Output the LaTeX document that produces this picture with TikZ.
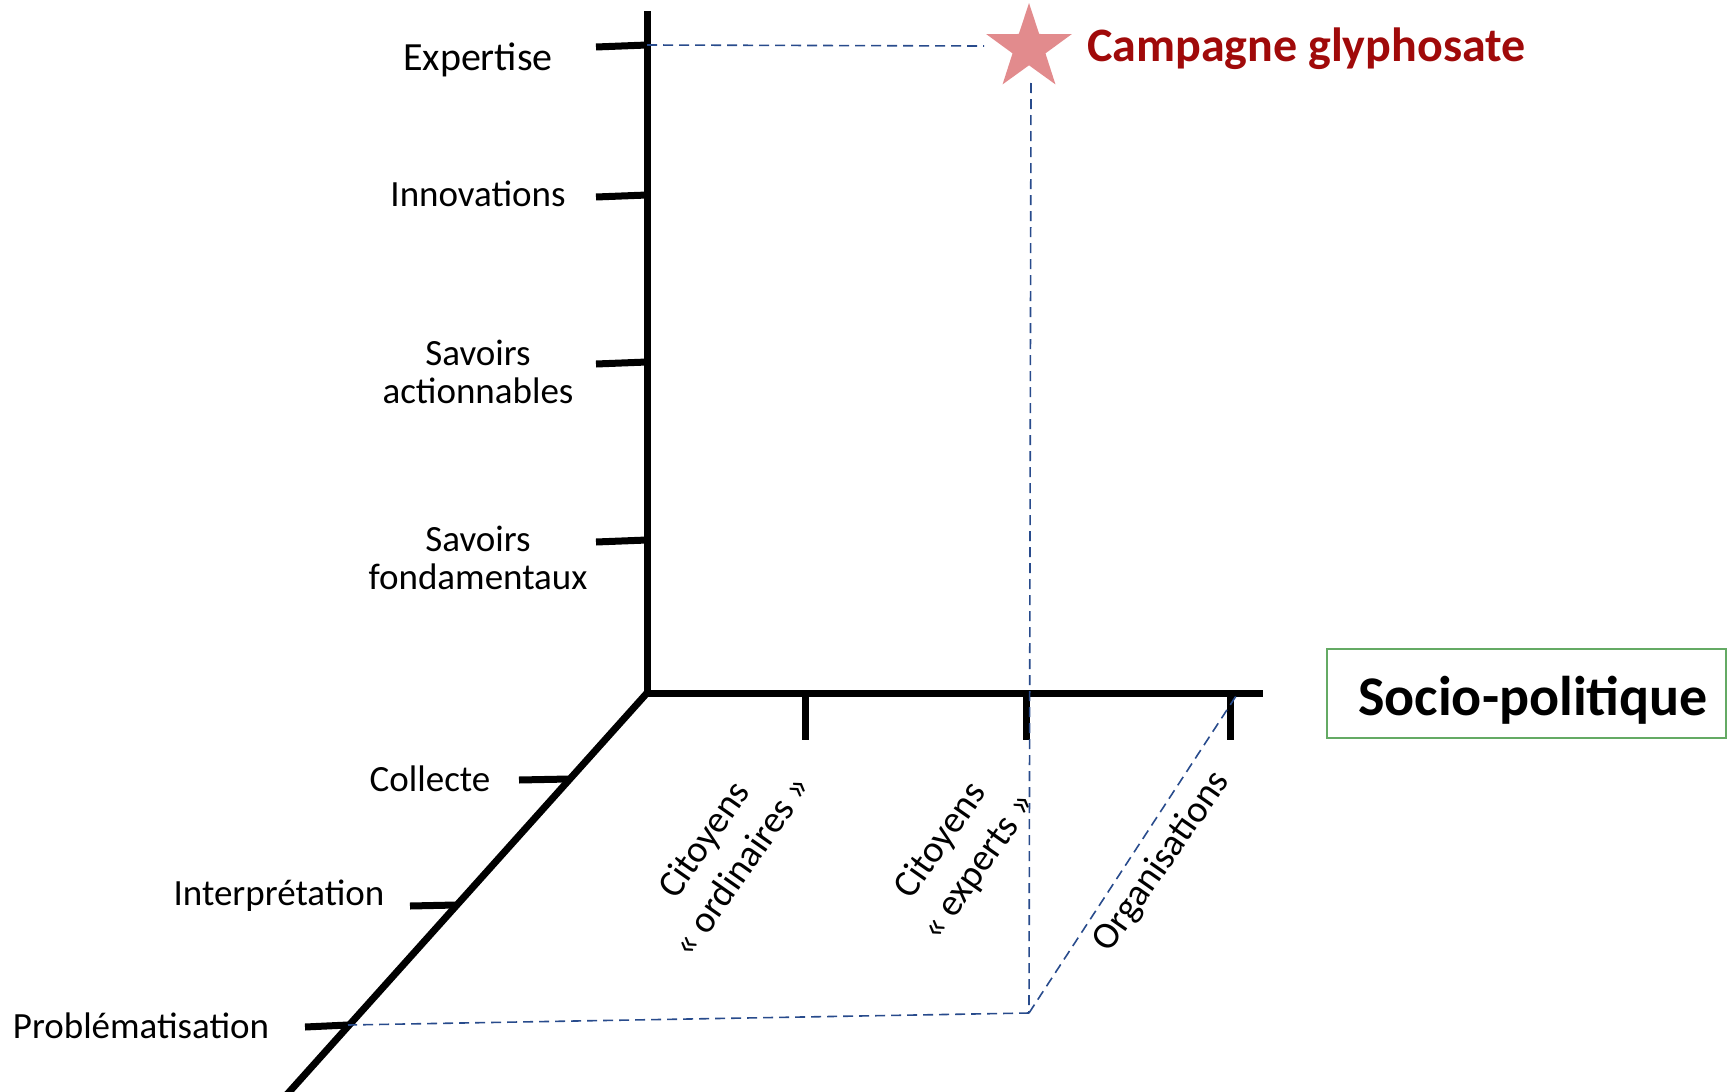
\documentclass[tikz,border=0pt]{standalone}
\usepackage{fontspec}
\setmainfont{Carlito}
\usetikzlibrary{shapes.geometric}
\definecolor{dashblue}{RGB}{40,75,140}
\definecolor{starpink}{RGB}{226,139,141}
\definecolor{titlered}{RGB}{160,10,10}
\definecolor{boxgreen}{RGB}{100,170,100}
\begin{document}
\begin{tikzpicture}[x=1pt,y=-1pt,
  axis/.style={line width=7pt, black},
  tickmark/.style={line width=7pt, black},
  guide/.style={dashblue, line width=1.6pt, dash pattern=on 10pt off 6pt},
  lab/.style={font=\fontsize{37}{38}\selectfont, align=center, inner sep=0pt},
  rlab/.style={font=\fontsize{38}{46}\selectfont, align=center, inner sep=0pt, rotate=55},
]
\useasboundingbox (0,0) rectangle (1730,1092);
% axes
\coordinate (O) at (647,693);
\coordinate (Vtop) at (647,11);
\coordinate (Hend) at (1263,693);
\coordinate (Dend) at (282,1100);
\draw[axis] (Vtop) -- (O) -- (Hend);
\draw[axis] (O) -- (Dend);
% vertical ticks
\coordinate (v1) at (647,45);
\coordinate (v2) at (647,195);
\coordinate (v3) at (647,362);
\coordinate (v4) at (647,540);
\draw[tickmark] (596,47) -- (v1);
\draw[tickmark] (596,197) -- (v2);
\draw[tickmark] (596,364) -- (v3);
\draw[tickmark] (596,542) -- (v4);
% horizontal ticks
\coordinate (h1) at (805,693);
\coordinate (h2) at (1026,693);
\coordinate (h3) at (1230,693);
\draw[tickmark] (h1) -- (805,740);
\draw[tickmark] (h2) -- (1026,740);
\draw[tickmark] (h3) -- (1230,740);
% diagonal ticks
\coordinate (d1) at (569,779);
\coordinate (d2) at (456,905);
\coordinate (d3) at (348,1025);
\draw[tickmark] (519,780) -- (d1);
\draw[tickmark] (410,906) -- (d2);
\draw[tickmark] (305,1027) -- (d3);
% vertical labels
\node[lab, font=\fontsize{40}{40}\selectfont] (lexp) at (478,60) {Expertise};
\node[lab] (linn) at (478,194) {Innovations};
\node[lab] (lact) at (478,372) {Savoirs\\actionnables};
\node[lab] (lfon) at (478,558) {Savoirs\\fondamentaux};
% diagonal labels
\node[lab] (lcol) at (430,779) {Collecte};
\node[lab] (lint) at (279,896) {Interprétation};
\node[lab] (lpro) at (141,1026) {Problématisation};
% horizontal labels
\node[rlab] (lord) at (722,852) {Citoyens\\« ordinaires »};
\node[rlab] (lexpc) at (960,854) {Citoyens\\« experts »};
\node[rlab] (lorg) at (1162,862) {Organisations};
% socio-politique box
\node[draw=boxgreen, line width=2pt, minimum width=399pt, minimum height=89pt, inner sep=0pt] (socio) at (1526,693) {};
\node[font=\bfseries\fontsize{56}{58}\selectfont, inner sep=0pt] (sociotext) at (1533,700) {Socio-politique};
% star and title
\node[star, star points=5, star point ratio=2.6, fill=starpink, minimum size=90pt, inner sep=0pt] (star) at (1029,48) {};
\node[anchor=west, font=\bfseries\fontsize{48}{50}\selectfont, text=titlered, inner sep=0pt] (title) at (1087,49) {Campagne glyphosate};
% guides
\coordinate (corner) at (1029,1013);
\coordinate (sx) at (984,46);
\coordinate (sy) at (1031,83);
\coordinate (oend) at (1238,693);
\draw[guide] (v1) -- (sx);
\draw[guide] (sy) -- (corner);
\draw[guide] (corner) -- (d3);
\draw[guide] (corner) -- (oend);
\end{tikzpicture}
\end{document}
